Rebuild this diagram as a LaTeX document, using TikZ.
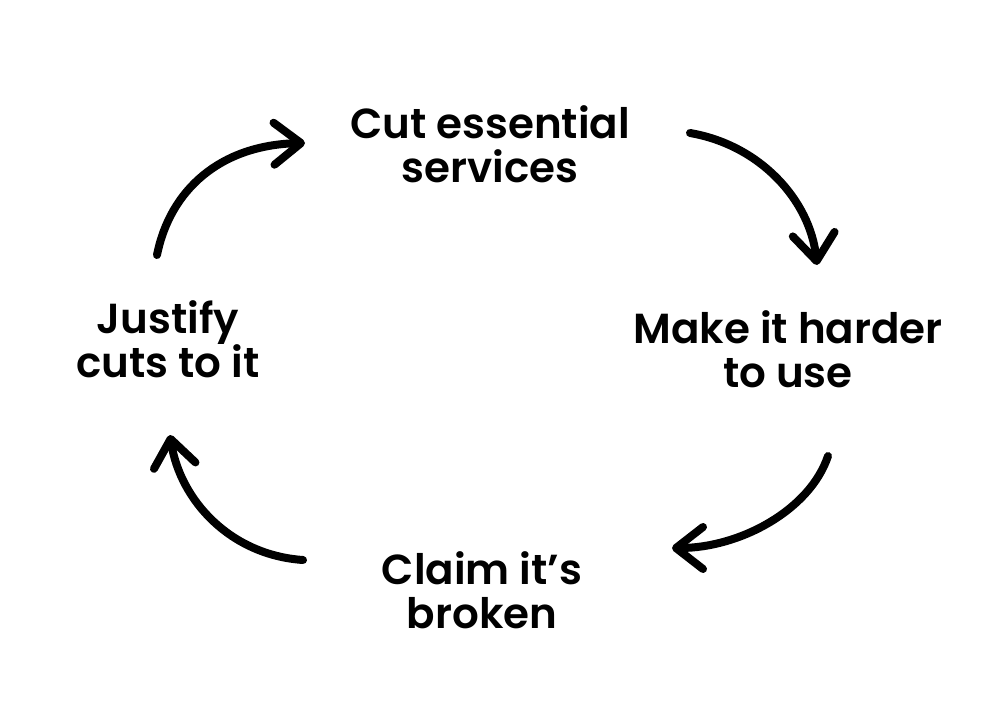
\documentclass[tikz,border=0pt]{standalone}
\usepackage{fontspec}
\setmainfont{Poppins}[UprightFont=* SemiBold]
\usetikzlibrary{arrows.meta}
\tikzset{
  lbl/.style={align=center, font=\fontsize{42}{44}\selectfont, inner sep=0pt},
  cyc/.style={line width=8pt, line cap=round, -{Straight Barb[length=27pt, width=42pt, line cap=round, line join=round]}}
}
\begin{document}
\begin{tikzpicture}[x=1pt,y=-1pt]
\useasboundingbox[fill=white] (0,0) rectangle (1000,722);
\node[lbl] (top) at (490,144) {Cut essential\\services};
\node[lbl] (right) at (788,349) {Make it harder\\to use};
\node[lbl] (bottom) at (482,590) {Claim it’s\\broken};
\node[lbl] (left) at (168,339) {Justify\\cuts to it};
\coordinate (a1s) at (157,255); \coordinate (a1e) at (305,143);
\coordinate (a2s) at (690,133); \coordinate (a2e) at (817,265);
\coordinate (a3s) at (828,456); \coordinate (a3e) at (672,548);
\coordinate (a4s) at (303,560); \coordinate (a4e) at (170,435);
\draw[cyc] (a1s) .. controls (170,190) and (220,145) .. (a1e);
\draw[cyc] (a2s) .. controls (760,145) and (810,200) .. (a2e);
\draw[cyc] (a3s) .. controls (810,510) and (740,548) .. (a3e);
\draw[cyc] (a4s) .. controls (230,555) and (180,500) .. (a4e);
\end{tikzpicture}
\end{document}
